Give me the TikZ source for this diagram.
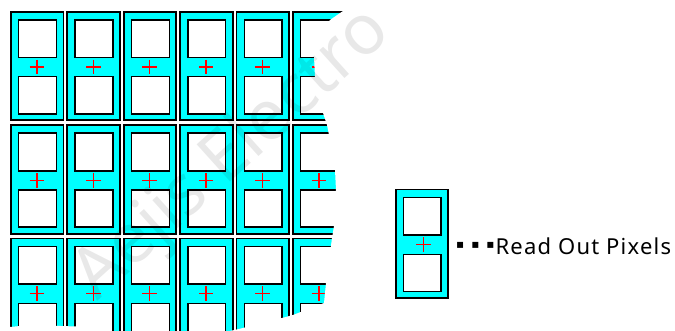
\documentclass[tikz,border=0pt]{standalone}
\usepackage{fontspec}
\setmainfont{Noto Sans}
\newfontfamily\dejadots{DejaVu Sans}
\definecolor{pixcyan}{RGB}{0,255,255}
\tikzset{x=1pt,y=-1pt,
 pixelbody/.style={draw=black,line width=1.8pt,fill=pixcyan},
 window/.style={draw=black,line width=1.5pt,fill=white},
 crossmark/.style={draw=red,line width=1.4pt},
 labeltext/.style={font=\fontsize{22}{26}\selectfont,anchor=west,inner sep=0pt}}
\newcommand{\pixelcell}[3]{%
 \begin{scope}[shift={(#1,#2)}]
 \path[pixelbody] (0,0) rectangle (52.5,108.5);
 \path[window] (7.8,8) rectangle (45.6,45.6);
 \path[window] (7.8,64.7) rectangle (45.6,102);
 \draw[crossmark] (#3-7.3,55.2) -- (#3+7.3,55.2) (#3,47.8) -- (#3,62.6);
 \end{scope}}
\newcommand{\tdot}{\raisebox{6pt}{\dejadots\fontsize{12}{14}\selectfont\char"25AA}\kern7pt}
\begin{document}
\begin{tikzpicture}
\useasboundingbox (0,0) rectangle (675,331);
\fill[white] (0,0) rectangle (675,331);
\foreach \r in {0,1,2}{\foreach \c in {0,...,5}{\pixelcell{10.9+56.4*\c}{11.8+113.4*\r}{26}}}
% torn edge
\fill[white] (345,0) -- (343,11) -- (330,20) -- (320,34) -- (314,50) -- (314,57) -- (315,77) -- (319,98) -- (323,113) -- (327,125) -- (331,145) -- (335,170) -- (336,190) -- (334,226) -- (332,238) -- (326,283) -- (324,303) -- (293,315) -- (282,318) -- (243,328) -- (230,331) -- (675,331) -- (675,0) -- cycle;
\fill[white] (0,331) -- (10,327) -- (30,325) -- (76,326.5) -- (78,331) -- cycle;
\fill[white] (0,0) rectangle (675,10);
\node[rotate=42,text=black,font=\fontsize{70}{74}\bfseries\selectfont,opacity=.09,anchor=center] (wmark) at (233,155) {Aejis Electro};
\pixelcell{395.6}{189.6}{27.8}
\node[labeltext] (lab) at (456,246) {\tdot\tdot\tdot\kern-6pt\addfontfeature{LetterSpace=5.5}Read Out Pixels};
\end{tikzpicture}
\end{document}
